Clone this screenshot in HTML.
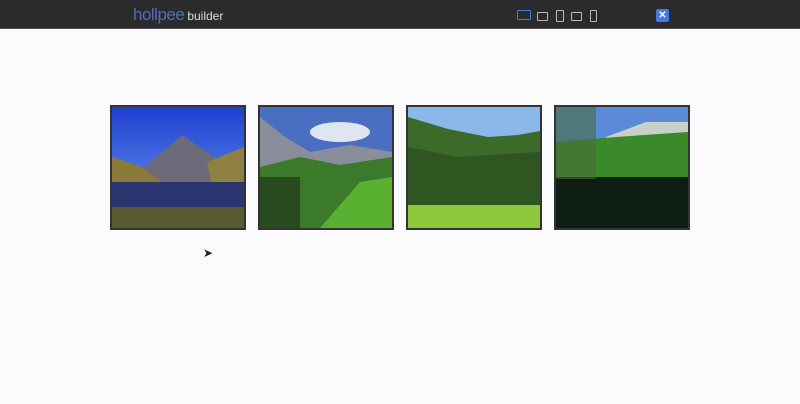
<!DOCTYPE html>
<html><head><meta charset="utf-8"><style>
html,body{margin:0;padding:0;width:800px;height:404px;overflow:hidden;background:#fbfafd;font-family:"Liberation Sans",sans-serif}
#bar{position:absolute;left:0;top:0;width:800px;height:28px;background:#2b2a2c;border-bottom:1px solid #555}
#logo{position:absolute;left:133px;top:5px;color:#4d6fb8;font-size:17px;letter-spacing:-0.5px}
#logo span{color:#ddd;font-size:12px;letter-spacing:0;margin-left:3px}
.dev{position:absolute;top:10px;border:1.5px solid #bbb;border-radius:1px;box-sizing:border-box}
#close{position:absolute;left:656px;top:9px;width:13px;height:13px;background:#3f7be0;border-radius:2px;color:#fff;font-size:10px;line-height:13px;text-align:center;font-weight:bold}
.ph{position:absolute;top:105px;width:136px;height:125px;border:2px solid #333;box-sizing:border-box;overflow:hidden}
.ph svg{display:block}
#cursor{position:absolute;left:203px;top:246px;font-size:12px;color:#222}
</style></head><body>
<div id="bar">
  <div id="logo">hollpee<span>builder</span></div>
  <div class="dev" style="left:517px;width:14px;height:10px;border-color:#3f7be0"></div>
  <div class="dev" style="left:537px;top:12px;width:11px;height:9px"></div>
  <div class="dev" style="left:556px;width:8px;height:12px"></div>
  <div class="dev" style="left:571px;top:12px;width:11px;height:9px"></div>
  <div class="dev" style="left:590px;width:7px;height:12px"></div>
  <div id="close">✕</div>
</div>

<div class="ph" style="left:110px">
<svg width="132" height="121"><defs><linearGradient id="s1" x1="0" y1="0" x2="0" y2="1"><stop offset="0" stop-color="#1f3fd0"/><stop offset="1" stop-color="#6fa0f0"/></linearGradient></defs>
<rect width="132" height="121" fill="url(#s1)"/>
<polygon points="20,70 70,28 120,62 132,70 132,80 0,80" fill="#6b6a78"/>
<polygon points="0,50 30,60 50,75 0,80" fill="#8a7a3a"/>
<polygon points="95,55 132,40 132,85 100,80" fill="#8d8040"/>
<rect y="75" width="132" height="46" fill="#2a3570"/>
<rect y="100" width="132" height="21" fill="#5a5a30"/></svg></div>

<div class="ph" style="left:258px">
<svg width="132" height="121"><rect width="132" height="121" fill="#4a6fc0"/>
<ellipse cx="80" cy="25" rx="30" ry="10" fill="#dfe6f2"/>
<polygon points="0,10 25,30 50,45 90,38 132,45 132,70 0,70" fill="#8a8e9a"/>
<polygon points="0,60 40,50 80,58 132,50 132,121 0,121" fill="#3a7a2a"/>
<polygon points="60,121 100,75 132,70 132,121" fill="#5ab030"/>
<rect x="0" y="70" width="40" height="51" fill="#2a4a20"/></svg></div>

<div class="ph" style="left:406px">
<svg width="132" height="121"><rect width="132" height="121" fill="#8ab8e8"/>
<polygon points="0,10 40,22 80,30 110,28 132,24 132,100 0,100" fill="#3c6a2a"/>
<polygon points="0,40 50,50 132,45 132,100 0,100" fill="#2f5520"/>
<rect y="98" width="132" height="23" fill="#8cc83a"/></svg></div>

<div class="ph" style="left:554px">
<svg width="132" height="121"><rect width="132" height="121" fill="#5a8ad8"/>
<polygon points="50,30 90,15 132,15 132,40 50,40" fill="#c8d0c8"/>
<polygon points="0,35 60,30 132,25 132,72 0,72" fill="#3a8a2a"/>
<rect y="70" width="132" height="51" fill="#0f1e14"/>
<rect x="0" y="0" width="40" height="72" fill="#4a6a3a" opacity="0.6"/></svg></div>

<div id="cursor">➤</div>
</body></html>
